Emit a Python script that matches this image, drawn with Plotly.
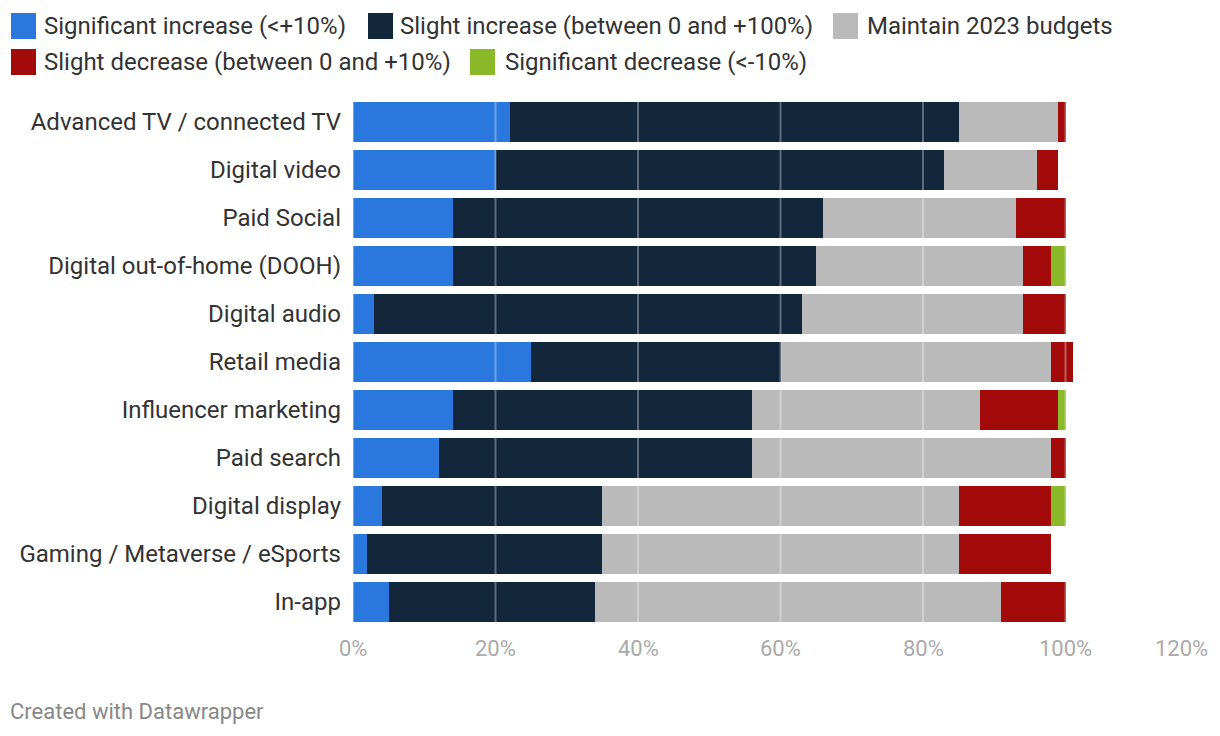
import plotly.graph_objects as go

categories = [
    "Advanced TV / connected TV", "Digital video", "Paid Social",
    "Digital out-of-home (DOOH)", "Digital audio", "Retail media",
    "Influencer marketing", "Paid search", "Digital display",
    "Gaming / Metaverse / eSports", "In-app",
]
series_names = [
    "Significant increase (<+10%)",
    "Slight increase (between 0 and +100%)",
    "Maintain 2023 budgets",
    "Slight decrease (between 0 and +10%)",
    "Significant decrease (<-10%)",
]
sig_increase = [22, 20, 14, 14, 3, 25, 14, 12, 4, 2, 5]
slight_increase = [63, 63, 52, 51, 60, 35, 42, 44, 31, 33, 29]
maintain = [14, 13, 27, 29, 31, 38, 32, 42, 50, 50, 57]
slight_decrease = [1, 3, 7, 4, 6, 3, 11, 2, 13, 13, 9]
sig_decrease = [0, 0, 0, 2, 0, 0, 1, 0, 2, 0, 0]
tick_values = [0, 20, 40, 60, 80, 100, 120]
tick_labels = ["0%", "20%", "40%", "60%", "80%", "100%", "120%"]

colors = ["#2a77dd", "#12263c", "#bababa", "#a30b0b", "#8aba2a"]
all_series = [sig_increase, slight_increase, maintain, slight_decrease, sig_decrease]

FONT = "Roboto"
W, H = 1220, 736
L, R, T, B = 345, 20, 90, 118
PW, PH = W - L - R, H - T - B


def px(x):
    return (x - L) / PW


def py(y):
    return (H - B - y) / PH


fig = go.Figure()
for name, vals, col in zip(series_names, all_series, colors):
    fig.add_trace(go.Bar(
        y=categories, x=vals, name=name, orientation="h",
        marker=dict(color=col, line=dict(width=0)), showlegend=False,
    ))

fig.update_layout(
    barmode="stack", bargap=0.17,
    width=W, height=H,
    margin=dict(l=L, r=R, t=T, b=B),
    paper_bgcolor="white", plot_bgcolor="white",
    font=dict(family=FONT, size=24, color="#333333"),
)
fig.update_xaxes(range=[0, 120], tickvals=tick_values, showticklabels=False,
                 showgrid=False, zeroline=False, showline=False)
fig.update_yaxes(categoryorder="array", categoryarray=categories[::-1],
                 showgrid=False, zeroline=False, showline=False,
                 ticks="", ticklabelstandoff=11,
                 tickfont=dict(family=FONT, size=24, color="#333333"))

# gridlines drawn above bars (semi-transparent white) and tick labels
for v, lab in zip(tick_values, tick_labels):
    fig.add_shape(type="line", xref="x", yref="paper", x0=v, x1=v, y0=0, y1=1,
                  line=dict(color="rgba(255,255,255,0.32)", width=2), layer="above")
    fig.add_annotation(x=v, xref="x", y=py(640), yref="paper", text=lab,
                       showarrow=False, yanchor="middle",
                       xanchor="right" if v == tick_values[-1] else "center",
                       xshift=2 if v == tick_values[-1] else 0,
                       font=dict(family=FONT, size=22, color="#aaaaaa"))

# manual legend (figure pixel positions)
legend_rows = [
    [(0, 3, 36), (1, 360, 392), (2, 825, 859)],
    [(3, 3, 36), (4, 462, 497)],
]
row_y = [18, 54]
for ri, row in enumerate(legend_rows):
    yc = row_y[ri]
    for idx, sx, tx in row:
        fig.add_shape(type="rect", xref="paper", yref="paper",
                      x0=px(sx), x1=px(sx + 25),
                      y0=py(yc + 13), y1=py(yc - 13),
                      fillcolor=colors[idx], line=dict(width=0))
        fig.add_annotation(x=px(tx), xref="paper", y=py(yc), yref="paper",
                           text=series_names[idx], showarrow=False,
                           xanchor="left", yanchor="middle", xshift=-2,
                           font=dict(family=FONT, size=24, color="#333333"))

fig.add_annotation(x=px(2), xref="paper", y=py(703), yref="paper",
                   text="Created with Datawrapper", showarrow=False,
                   xanchor="left", yanchor="middle", xshift=-2,
                   font=dict(family=FONT, size=22, color="#888888"))

fig.write_html("out.html")
